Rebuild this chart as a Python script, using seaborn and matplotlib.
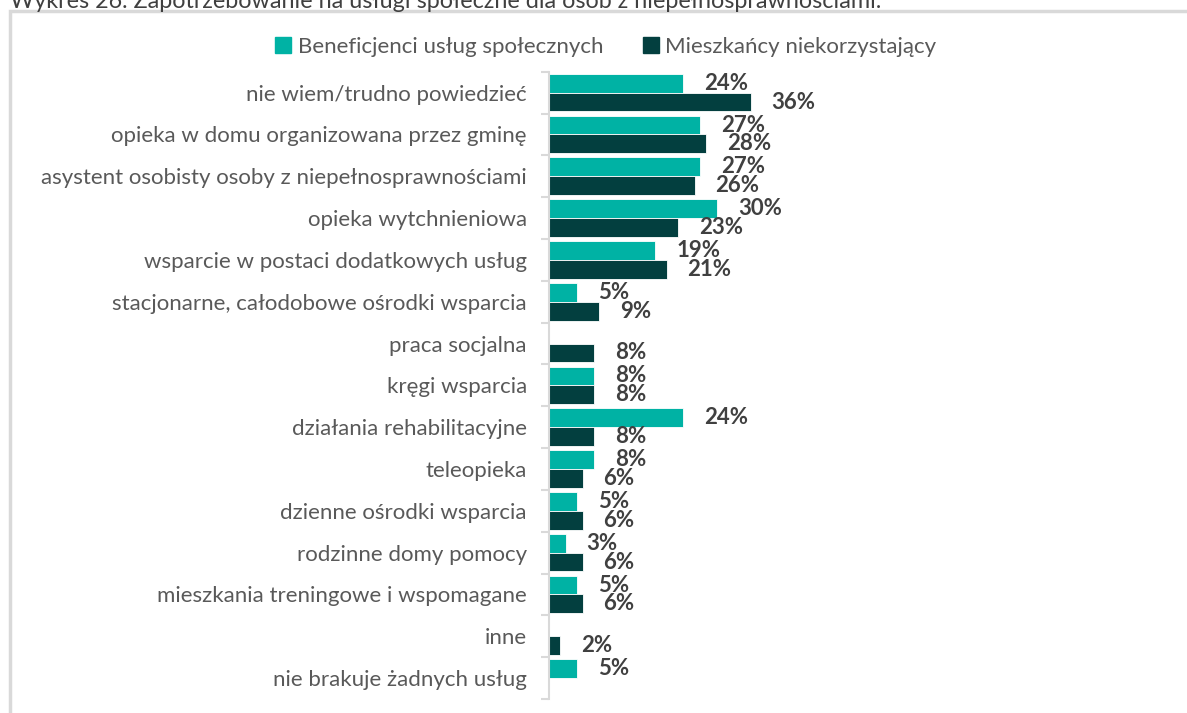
import numpy as np
import pandas as pd
import matplotlib
matplotlib.use("Agg")
import matplotlib.pyplot as plt
from matplotlib.patches import Rectangle
from matplotlib.ticker import FixedLocator
import seaborn as sns

categories = [
    "nie wiem/trudno powiedzieć",
    "opieka w domu organizowana przez gminę",
    "asystent osobisty osoby z niepełnosprawnościami",
    "opieka wytchnieniowa",
    "wsparcie w postaci dodatkowych usług",
    "stacjonarne, całodobowe ośrodki wsparcia",
    "praca socjalna",
    "kręgi wsparcia",
    "działania rehabilitacyjne",
    "teleopieka",
    "dzienne ośrodki wsparcia",
    "rodzinne domy pomocy",
    "mieszkania treningowe i wspomagane",
    "inne",
    "nie brakuje żadnych usług",
]
series_names = ["Beneficjenci usług społecznych", "Mieszkańcy niekorzystający"]
beneficjenci = [24, 27, 27, 30, 19, 5, np.nan, 8, 24, 8, 5, 3, 5, np.nan, 5]
mieszkancy = [36, 28, 26, 23, 21, 9, 8, 8, 8, 6, 6, 6, 6, 2, np.nan]
title = "Wykres 26. Zapotrzebowanie na usługi społeczne dla osób z niepełnosprawnościami."

df = pd.DataFrame({
    "kategoria": categories * 2,
    "grupa": [series_names[0]] * len(categories) + [series_names[1]] * len(categories),
    "procent": beneficjenci + mieszkancy,
})

sns.set_style("white")
plt.rcParams["font.family"] = ["Lato", "DejaVu Sans"]

teal = "#00B2A4"
dark = "#033F3F"
text_gray = "#595959"
label_gray = "#404040"
fs = 16

fig = plt.figure(figsize=(11.87, 7.13), dpi=100)
ax = fig.add_axes([549 / 1187, 1 - 699 / 713, 600 / 1187, (699 - 71.7) / 713])

sns.barplot(data=df, y="kategoria", x="procent", hue="grupa", orient="h",
            palette=[teal, dark], saturation=1, width=0.9, edgecolor="white", linewidth=0.6,
            errorbar=None, legend=False, ax=ax)

for cont in ax.containers:
    ax.bar_label(cont, fmt="%.0f%%", padding=15, fontsize=fs, fontweight="bold",
                 color=label_gray)

ax.set_xlim(0, 600 / 5.6)
ax.set_ylim(len(categories) - 0.5, -0.5)
ax.set_xlabel("")
ax.set_ylabel("")
ax.set_xticks([])
sns.despine(ax=ax, top=True, right=True, bottom=True)
ax.spines["left"].set_color("#D9D9D9")
ax.spines["left"].set_linewidth(1.5)
ax.tick_params(axis="y", which="major", length=0, pad=16, labelsize=fs, labelcolor=text_gray)
ax.yaxis.set_minor_locator(FixedLocator(np.arange(-0.5, len(categories), 1)))
ax.tick_params(axis="y", which="minor", length=6, width=1.5, color="#D9D9D9", left=True)

# legend
handles = [Rectangle((0, 0), 1, 1, color=teal), Rectangle((0, 0), 1, 1, color=dark)]
fig.legend(handles, series_names, loc="center", bbox_to_anchor=(606 / 1187, 1 - 47 / 713),
           ncol=2, frameon=False, fontsize=fs, labelcolor=text_gray,
           handlelength=0.7, handleheight=0.7, handletextpad=0.3, columnspacing=1.8)

# frame around the chart
fig.patches.append(Rectangle((10 / 1187, -0.05), 1.1, 1 - 11 / 713 + 0.05, transform=fig.transFigure,
                             fill=False, edgecolor="#D9D9D9", linewidth=2.5))
fig.text(10 / 1187, 1 - 1 / 713, title, fontsize=16.8, color=label_gray, ha="left", va="center")

fig.savefig("out.png", dpi=100)
